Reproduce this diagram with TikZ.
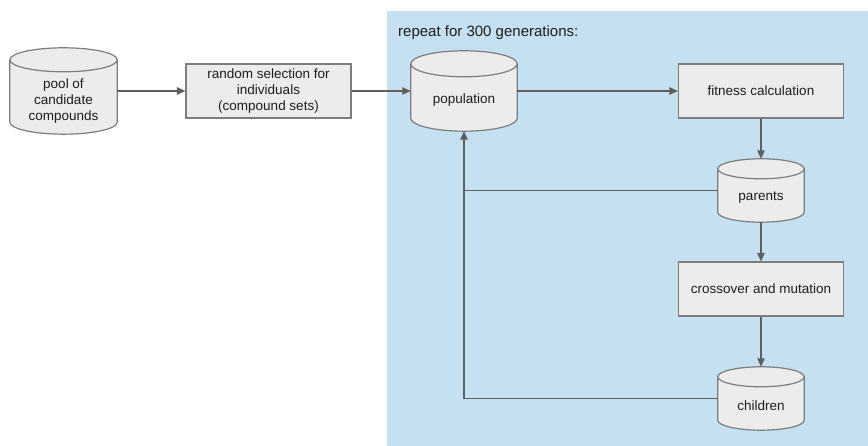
\documentclass[tikz,border=0pt]{standalone}
\usepackage{fontspec}
\setmainfont{Liberation Sans}
\usetikzlibrary{arrows.meta,calc}
\pgfdeclarelayer{bg}
\pgfdeclarelayer{mid}
\pgfsetlayers{bg,mid,main}
\definecolor{bluebg}{RGB}{197,224,240}
\definecolor{boxfill}{RGB}{236,236,236}
\definecolor{boxline}{RGB}{125,125,125}
\definecolor{arrowc}{RGB}{95,95,95}
\definecolor{txt}{RGB}{30,30,30}
\newcommand\drawcyl[2]{%
  \draw[draw=boxline, fill=boxfill, line width=1.2pt]
    let \p1=(#1.north west), \p2=(#1.south east), \n1={(\x2-\x1)/2} in
    (\x1,\y1-#2pt) -- (\x1,\y2+#2pt)
    arc[start angle=180, end angle=360, x radius=\n1, y radius=#2pt]
    -- (\x2,\y1-#2pt)
    arc[start angle=0, end angle=180, x radius=\n1, y radius=#2pt] -- cycle
    (\x1,\y1-#2pt) arc[start angle=180, end angle=360, x radius=\n1, y radius=#2pt];
}
\begin{document}
\begin{tikzpicture}[x=1pt,y=1pt,
  every node/.style={font=\fontsize{13.5}{16}\selectfont, text=txt},
  procbox/.style={rectangle, draw=boxline, fill=boxfill, line width=1.2pt,
    minimum width=165pt, minimum height=54pt, align=center, inner sep=0pt},
  cylnode/.style={rectangle, draw=none, inner sep=0pt},
  flow/.style={draw=arrowc, line width=1.1pt, -{Triangle[length=8.5pt,width=7.5pt]}},
  plainline/.style={draw=arrowc, line width=1.1pt}
]
\useasboundingbox (0,0) rectangle (868,446);
\begin{pgfonlayer}{bg}
  \fill[bluebg] (387,0) rectangle (868,435);
\end{pgfonlayer}

\node[anchor=base west, inner sep=0pt, font=\fontsize{15}{18}\selectfont] (title) at (398,409.5) {repeat for 300 generations:};

\node[cylnode, minimum width=107pt, minimum height=86pt,
  label={[align=center, yshift=-10pt]center:{pool of\\candidate\\compounds}}] (pool) at (63.5,355) {};
\node[procbox] (rand) at (268.5,355) {random selection for\\individuals\\(compound sets)};
\node[cylnode, minimum width=106pt, minimum height=80pt,
  label={[yshift=-9.5pt]center:population}] (pop) at (464,355) {};
\node[procbox] (fit) at (761,355) {fitness calculation};
\node[cylnode, minimum width=86pt, minimum height=63pt,
  label={[yshift=-7.5pt]center:parents}] (par) at (761,255.5) {};
\node[procbox] (cro) at (761,157) {crossover and mutation};
\node[cylnode, minimum width=86pt, minimum height=63pt,
  label={[yshift=-7pt]center:children}] (chi) at (761,47.5) {};

\begin{pgfonlayer}{mid}
  \drawcyl{pool}{12}
  \drawcyl{pop}{13}
  \drawcyl{par}{10}
  \drawcyl{chi}{10}
\end{pgfonlayer}

\draw[flow] (pool) -- (rand);
\draw[flow] (rand) -- (pop);
\draw[flow] (pop) -- (fit);
\draw[flow] (fit) -- (par);
\draw[flow] (par) -- (cro);
\draw[flow] (cro) -- (chi);
\draw[flow] (chi.west) -| (pop.south);
\draw[plainline] (par.west) -- (par.west -| pop.south);
\end{tikzpicture}
\end{document}
